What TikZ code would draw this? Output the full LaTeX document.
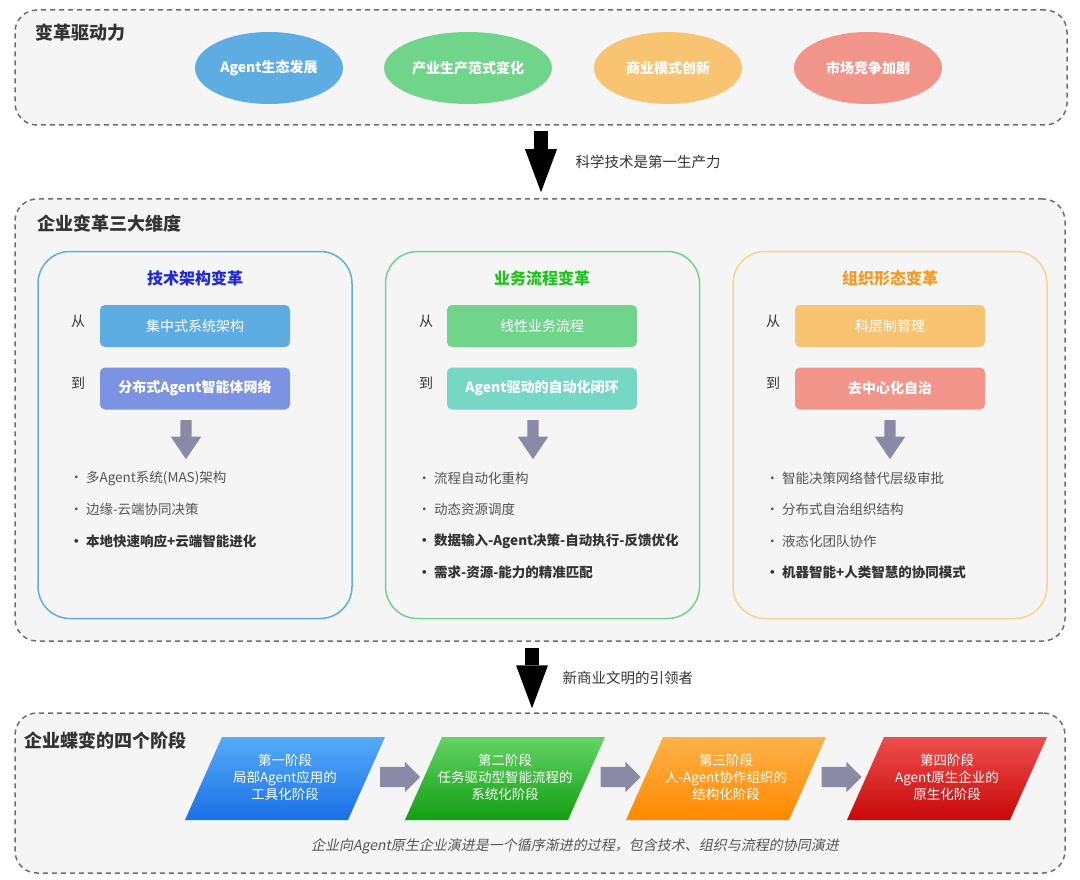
\documentclass[tikz,border=0pt]{standalone}
\usepackage{fontspec}
\setmainfont{Noto Sans CJK SC}[AutoFakeSlant=0.2]
\usetikzlibrary{shapes.geometric,shapes.arrows,arrows.meta,calc}

\definecolor{boxgray}{HTML}{F5F5F5}
\definecolor{dashgray}{HTML}{6E6E6E}
\definecolor{cblue}{HTML}{5DADE2}
\definecolor{cgreen}{HTML}{70D48B}
\definecolor{corange}{HTML}{F8C471}
\definecolor{cred}{HTML}{F1948A}
\definecolor{cperi}{HTML}{7B93E0}
\definecolor{cteal}{HTML}{76D7C4}
\definecolor{titleblue}{HTML}{1F28D8}
\definecolor{titlegreen}{HTML}{1DC41D}
\definecolor{titleorange}{HTML}{F39A1F}
\definecolor{panelorange}{HTML}{F7D38E}
\definecolor{arrowgray}{HTML}{8A8AA6}
\definecolor{textgray}{HTML}{555555}
\definecolor{textdark}{HTML}{333333}
\definecolor{s1top}{HTML}{55ABF7}
\definecolor{s1bot}{HTML}{1A70E6}
\definecolor{s2top}{HTML}{63D463}
\definecolor{s2bot}{HTML}{129E12}
\definecolor{s3top}{HTML}{FFB24A}
\definecolor{s3bot}{HTML}{FF8800}
\definecolor{s4top}{HTML}{EE4E4E}
\definecolor{s4bot}{HTML}{C80808}

\tikzset{
  groupbox/.style={draw=dashgray, line width=1.5pt, dash pattern=on 5pt off 4pt, fill=boxgray, rounded corners=22pt},
  grouptitle/.style={anchor=west, text=textdark, font=\fontsize{18}{21}\selectfont\bfseries},
  driver/.style={ellipse, minimum width=148pt, minimum height=72pt, text=white, font=\fontsize{14}{17}\selectfont\bfseries},
  panel/.style={draw=#1, line width=1.5pt, fill=boxgray, rounded corners=32pt, minimum width=314pt, minimum height=367pt},
  paneltitle/.style={text=#1, font=\fontsize{16}{19}\selectfont\bfseries},
  fromto/.style={text=textdark, font=\fontsize{14}{17}\selectfont},
  statebox/.style={fill=#1, rounded corners=5pt, minimum width=190pt, minimum height=42pt, text=white, font=\fontsize{14}{17}\selectfont},
  item/.style={anchor=west, text=textgray, font=\fontsize{13.5}{16}\selectfont},
  keyitem/.style={anchor=west, text=textdark, font=\fontsize{13.5}{16}\selectfont\bfseries},
  downarrow/.style={single arrow, fill=arrowgray, rotate=-90, inner sep=5.5pt, minimum height=39pt, minimum width=30pt, single arrow head extend=9.5pt, single arrow tip angle=68},
  rightarrow/.style={single arrow, fill=arrowgray, inner sep=10pt, minimum height=40pt, minimum width=30pt, single arrow head extend=5pt},
  bigarrow/.style={line width=14pt, -{Triangle[length=43pt, width=32pt, line width=0pt]}},
  arrowlabel/.style={anchor=west, text=textdark, font=\fontsize{14.5}{17}\selectfont},
  stage/.style={align=center, text=white, font=\fontsize{13.5}{17}\selectfont},
}

\begin{document}
\begin{tikzpicture}[x=1pt, y=-1pt]
    \useasboundingbox (0,0) rectangle (1080,880);

    % three dashed groups
    \node[groupbox, minimum width=1052pt, minimum height=115pt] (drivers) at (541,67.5) {};
    \node[groupbox, minimum width=1050pt, minimum height=442pt] (dims) at (540,420) {};
    \node[groupbox, minimum width=1050pt, minimum height=160pt] (stages) at (540,793) {};

    \node[grouptitle] (driverstitle) at (32,33) {变革驱动力};
    \node[grouptitle] (dimstitle) at (34,224) {企业变革三大维度};
    \node[grouptitle] (stagestitle) at (21,741) {企业蝶变的四个阶段};

    % drivers
    \node[driver, fill=cblue] (d1) at (269,68) {Agent生态发展};
    \node[driver, fill=cgreen] (d2) at (468,68) {产业生产范式变化};
    \node[driver, fill=corange] (d3) at (668,68) {商业模式创新};
    \node[driver, fill=cred] (d4) at (868,68) {市场竞争加剧};

    \draw[bigarrow] ([yshift=-5pt]drivers.south) -- ([yshift=6pt]drivers.south |- dims.north);
    \node[arrowlabel] (lab1) at (572,162) {科学技术是第一生产力};

    % panel 1
    \node[panel=cblue] (p1) at (195,435) {};
    \node[paneltitle=titleblue] (t1) at (195,278) {技术架构变革};
    \node[fromto] (from1) at (78,321) {从};
    \node[statebox=cblue] (a1) at (195,326) {集中式系统架构};
    \node[fromto] (to1) at (78,383) {到};
    \node[statebox=cperi, font=\fontsize{14}{17}\selectfont\bfseries] (b1) at (195,388.5) {分布式Agent智能体网络};
    \node[downarrow] (arr1) at (186,435.5) {};
    \node[item] (i11) at (66,478) {• 多Agent系统(MAS)架构};
    \node[item] (i12) at (66,509) {• 边缘-云端协同决策};
    \node[keyitem] (i13) at (66,541) {• 本地快速响应+云端智能进化};

    % panel 2
    \node[panel=cgreen] (p2) at (542.5,435) {};
    \node[paneltitle=titlegreen] (t2) at (542,278) {业务流程变革};
    \node[fromto] (from2) at (426,321) {从};
    \node[statebox=cgreen] (a2) at (542,326) {线性业务流程};
    \node[fromto] (to2) at (426,383) {到};
    \node[statebox=cteal, font=\fontsize{14}{17}\selectfont\bfseries] (b2) at (542,388.5) {Agent驱动的自动化闭环};
    \node[downarrow] (arr2) at (533,435.5) {};
    \node[item] (i21) at (414,478) {• 流程自动化重构};
    \node[item] (i22) at (414,509) {• 动态资源调度};
    \node[keyitem] (i23) at (414,541) {• 数据输入-Agent决策-自动执行-反馈优化};
    \node[keyitem] (i24) at (414,572) {• 需求-资源-能力的精准匹配};

    % panel 3
    \node[panel=panelorange] (p3) at (890,435) {};
    \node[paneltitle=titleorange] (t3) at (890,278) {组织形态变革};
    \node[fromto] (from3) at (773,321) {从};
    \node[statebox=corange] (a3) at (890,326) {科层制管理};
    \node[fromto] (to3) at (773,383) {到};
    \node[statebox=cred, font=\fontsize{14}{17}\selectfont\bfseries] (b3) at (890,388.5) {去中心化自治};
    \node[downarrow] (arr3) at (890,435.5) {};
    \node[item] (i31) at (762,478) {• 智能决策网络替代层级审批};
    \node[item] (i32) at (762,509) {• 分布式自治组织结构};
    \node[item] (i33) at (762,541) {• 液态化团队协作};
    \node[keyitem] (i34) at (762,572) {• 机器智能+人类智慧的协同模式};

    \draw[bigarrow] ([xshift=-8pt,yshift=-6pt]dims.south) -- ([xshift=-8pt,yshift=4pt]stages.north);
    \node[arrowlabel] (lab2) at (559,678) {新商业文明的引领者};

    % stages
    \shade[top color=s1top, bottom color=s1bot] (185,820) -- (348,820) -- (385,737) -- (222,737) -- cycle;
    \shade[top color=s2top, bottom color=s2bot] (405,820) -- (568,820) -- (605,737) -- (442,737) -- cycle;
    \shade[top color=s3top, bottom color=s3bot] (626,820) -- (789,820) -- (826,737) -- (663,737) -- cycle;
    \shade[top color=s4top, bottom color=s4bot] (847,820) -- (1010,820) -- (1047,737) -- (884,737) -- cycle;

    \node[stage] (s1) at (285,777) {第一阶段\\局部Agent应用的\\工具化阶段};
    \node[stage] (s2) at (505,777) {第二阶段\\任务驱动型智能流程的\\系统化阶段};
    \node[stage] (s3) at (726,777) {第三阶段\\人-Agent协作组织的\\结构化阶段};
    \node[stage] (s4) at (947,777) {第四阶段\\Agent原生企业的\\原生化阶段};

    \node[rightarrow] (g12) at ($(s1)!0.5!(s2)$) {};
    \node[rightarrow] (g23) at ($(s2)!0.5!(s3)$) {};
    \node[rightarrow] (g34) at ($(s3)!0.5!(s4)$) {};

    \node[text=textgray, font=\fontsize{14}{17}\selectfont\itshape] (note) at (575,846) {企业向Agent原生企业演进是一个循序渐进的过程，包含技术、组织与流程的协同演进};

\end{tikzpicture}
\end{document}
